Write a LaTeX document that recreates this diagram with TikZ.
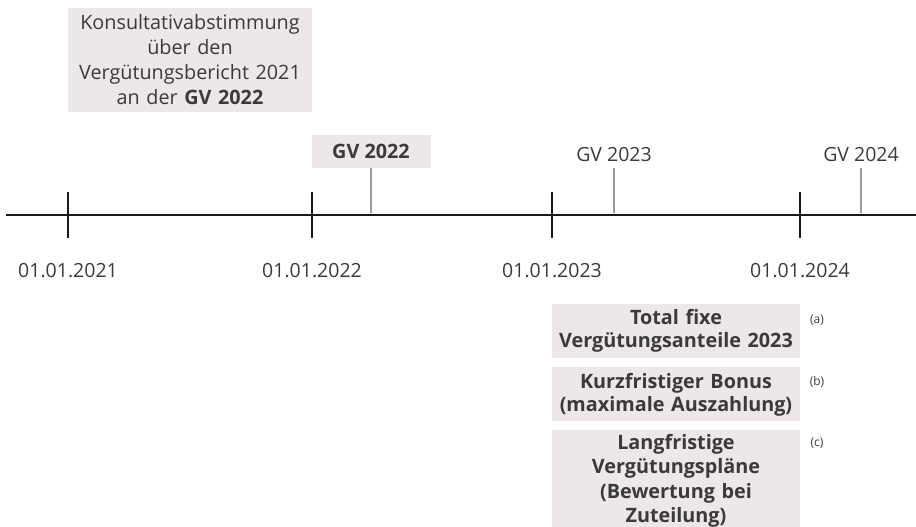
\documentclass[tikz,border=0pt]{standalone}
\usepackage{fontspec}
\setmainfont{Open Sans}
\usetikzlibrary{positioning}
\definecolor{boxgray}{HTML}{EDE7E7}
\definecolor{txtgray}{HTML}{3A3A3A}
\definecolor{tickgray}{HTML}{9A9A9A}

\begin{document}
\begin{tikzpicture}[
        x=1pt, y=-1pt,
        shaded box/.style={
            rectangle,
            fill=boxgray,
            inner sep=0pt,
            align=center,
            text=txtgray,
            font=\fontsize{19.8}{25}\selectfont
        },
        plain label/.style={
            text=txtgray,
            inner sep=0pt,
            font=\fontsize{19.5}{25}\selectfont
        },
        note label/.style={
            text=txtgray,
            inner sep=0pt,
            font=\fontsize{12}{14}\selectfont
        },
        axis line/.style={line width=2.6pt,draw=black!90},
        year tick/.style={line width=1.8pt,draw=black!90},
        gv tick/.style={line width=2.2pt,draw=tickgray}
    ]

    \useasboundingbox (0,0) rectangle (916,527);

    % Zeitachse
    \coordinate (axL) at (6,215);
    \coordinate (axR) at (916,215);
    \draw[axis line] (axL) -- (axR);

    % Jahresmarken mit Datum
    \foreach \x/\yr in {68/2021,312/2022,552/2023,800/2024} {
        \coordinate (T\yr top) at (\x,192);
        \coordinate (T\yr bot) at (\x,238);
        \draw[year tick] (T\yr top) -- (T\yr bot);
        \node[plain label] (D\yr) at (\x,271) {01.01.\yr};
    }

    % GV-Marken
    \foreach \x/\yr in {371/2022,614/2023,861/2024} {
        \coordinate (G\yr top) at (\x,168);
        \coordinate (G\yr bot) at (\x,213);
        \draw[gv tick] (G\yr top) -- (G\yr bot);
    }

    % GV-Beschriftungen
    \node[shaded box,minimum width=119pt,minimum height=33pt,anchor=south] (GV2022) at (G2022top) {\bfseries GV 2022};
    \node[plain label] (GV2023) at (614,155) {GV 2023};
    \node[plain label] (GV2024) at (861,155) {GV 2024};

    % Konsultativabstimmung
    \node[shaded box,minimum width=244pt,minimum height=104pt,text width=244pt] (vote) at (190,60)
        {Konsultativabstimmung\\über den\\Vergütungsbericht 2021\\an der \textbf{GV 2022}};

    % Vergütungsbestandteile
    \node[shaded box,font=\bfseries\fontsize{19.8}{23}\selectfont,minimum width=248pt,minimum height=54pt,text width=248pt] (fix) at (676,331)
        {Total fixe\\Vergütungsanteile 2023};
    \node[shaded box,font=\bfseries\fontsize{19.8}{23}\selectfont,minimum width=248pt,minimum height=54pt,text width=248pt,below=9pt of fix] (bonus)
        {Kurzfristiger Bonus\\(maximale Auszahlung)};
    \node[shaded box,font=\bfseries\fontsize{19.8}{24.5}\selectfont,minimum width=248pt,minimum height=102pt,text width=248pt,below=8pt of bonus] (ltip)
        {Langfristige\\Vergütungspläne\\(Bewertung bei\\Zuteilung)};

    % Fussnoten
    \node[note label] (na) at (817,320) {(a)};
    \node[note label] (nb) at (817,382) {(b)};
    \node[note label] (nc) at (817,443) {(c)};

\end{tikzpicture}
\end{document}
